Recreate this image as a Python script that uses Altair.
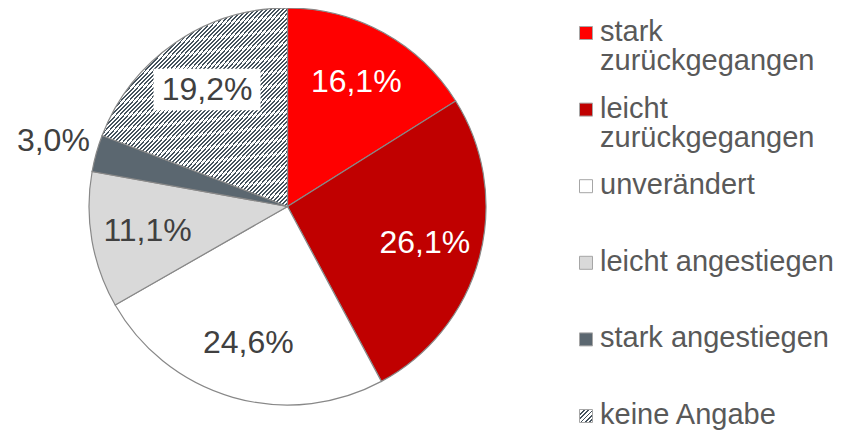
import altair as alt
import pandas as pd

# ---- data ----
categories = ["stark zurückgegangen", "leicht zurückgegangen", "unverändert",
              "leicht angestiegen", "stark angestiegen", "keine Angabe"]
values = [16.1, 26.1, 24.6, 11.1, 3.0, 19.2]
value_labels = ["16,1%", "26,1%", "24,6%", "11,1%", "3,0%", "19,2%"]
legend_labels = ["stark\nzurückgegangen", "leicht\nzurückgegangen", "unverändert",
                 "leicht angestiegen", "stark angestiegen", "keine Angabe"]
colors = ["#FF0000", "#C00000", "#FFFFFF", "#D9D9D9", "#5B6770", "#FFFFFF"]

df = pd.DataFrame({
    "cat": categories,
    "value": values,
    "label": value_labels,
    "legend": legend_labels,
    "idx": list(range(len(categories))),
})

# ---- layout / style ----
W, H = 825, 422
CX, CY, R = 279.5, 198.5, 198.5
FONT = "Liberation Sans"
HATCH_DARK = "#44525d"
HATCH_LIGHT = "#FFFFFF"


def hatch(n, frac=0.45):
    stops = []
    for k in range(n):
        a = k / n
        b = (k + frac) / n
        c = (k + 1) / n
        stops += [
            {"offset": a, "color": HATCH_DARK},
            {"offset": b, "color": HATCH_DARK},
            {"offset": b, "color": HATCH_LIGHT},
            {"offset": c, "color": HATCH_LIGHT},
        ]
    return {"gradient": "linear", "x1": 0, "y1": 0, "x2": 1, "y2": 1, "stops": stops}


color_scale = alt.Scale(domain=categories, range=colors)
is_hatch = alt.datum.cat == "keine Angabe"

base = alt.Chart(df)

arcs = base.mark_arc(outerRadius=R, stroke="#888888", strokeWidth=1.2).encode(
    theta=alt.Theta("value:Q", stack=True),
    order=alt.Order("idx:Q"),
    fill=alt.condition(is_hatch, alt.value(hatch(92)),
                       alt.Fill("cat:N", scale=color_scale, legend=None)),
    x=alt.value(CX),
    y=alt.value(CY),
)

pos = base.transform_joinaggregate(
    total="sum(value)"
).transform_window(
    cum="sum(value)", sort=[alt.SortField("idx")], frame=[None, 0]
).transform_calculate(
    mid="(datum.cum - datum.value / 2) / datum.total * 2 * PI",
    r="datum.value < 5 ? 243 : 142",
).transform_calculate(
    lx=f"{CX} + datum.r * sin(datum.mid)",
    ly=f"{CY} - datum.r * cos(datum.mid)",
)

box = pos.transform_filter(is_hatch).mark_point(
    shape="M-1,-0.39L1,-0.39L1,0.39L-1,0.39Z", size=107 * 107,
    filled=True, fill="white", opacity=1, strokeWidth=0,
).encode(
    x=alt.X("lx:Q", scale=None, axis=None),
    y=alt.Y("ly:Q", scale=None, axis=None),
)

labels = pos.mark_text(font=FONT, fontSize=32, baseline="middle", align="center").encode(
    x=alt.X("lx:Q", scale=None, axis=None),
    y=alt.Y("ly:Q", scale=None, axis=None),
    text="label:N",
    fill=alt.condition(alt.datum.idx < 2, alt.value("#FFFFFF"), alt.value("#404040")),
)

leg_y = alt.Y("cat:N", scale=alt.Scale(type="point", domain=categories, range=[25, 408], padding=0),
              axis=None)

leg_sq = base.mark_square(size=169, stroke="#a6a6a6", strokeWidth=1, opacity=1).encode(
    x=alt.value(578),
    y=leg_y,
    fill=alt.condition(is_hatch, alt.value(hatch(6)),
                       alt.Fill("cat:N", scale=color_scale, legend=None)),
)

leg_txt = base.mark_text(font=FONT, fontSize=29, align="left", baseline="alphabetic",
                         lineBreak="\n", lineHeight=29, dy=8, color="#595959").encode(
    x=alt.value(592),
    y=leg_y,
    text="legend:N",
)

chart = alt.layer(arcs, box, labels, leg_sq, leg_txt).resolve_scale(
    x="independent", y="independent"
).properties(
    width=W, height=H, autosize=alt.AutoSizeParams(type="none"), padding=0,
).configure_view(stroke=None)

chart.save("out.html", embed_options={"renderer": "svg", "actions": False})
